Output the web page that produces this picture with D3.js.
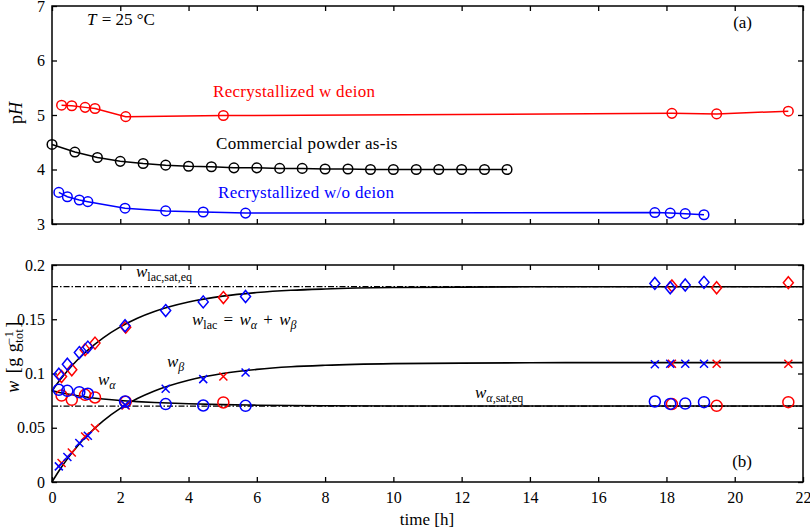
<!DOCTYPE html>
<html>
<head>
<meta charset="utf-8">
<script src="https://cdn.jsdelivr.net/npm/d3@7"></script>
<style>
  body { margin: 0; background: #fff; }
  svg text { font-family: "Liberation Serif", "Times New Roman", serif; fill: #000; }
</style>
</head>
<body>
<div id="chart"></div>
<script>
// ---- panel (a): pH over time ----
const phTimeRed = [0.28, 0.58, 0.97, 1.26, 2.16, 5.02, 18.16, 19.47, 21.57];
const phRed = [5.18, 5.17, 5.14, 5.12, 4.97, 4.99, 5.03, 5.02, 5.07];

const phTimeBlack = [0, 0.67, 1.33, 2.0, 2.67, 3.33, 4.0, 4.67, 5.33, 6.0, 6.67,
  7.33, 8.0, 8.67, 9.33, 10.0, 10.67, 11.33, 12.0, 12.67, 13.33];
const phBlack = [4.46, 4.32, 4.22, 4.15, 4.11, 4.08, 4.06, 4.05, 4.03, 4.03, 4.02,
  4.02, 4.01, 4.01, 4.0, 4.0, 4.0, 4.0, 4.0, 4.0, 4.0];

const phTimeBlue = [0.2, 0.45, 0.8, 1.05, 2.14, 3.33, 4.43, 5.67, 17.66, 18.11, 18.55, 19.1];
const phBlue = [3.58, 3.50, 3.44, 3.41, 3.29, 3.24, 3.22, 3.20, 3.21, 3.20, 3.19, 3.17];

// ---- panel (b): mass fractions ----
const tBlue = [0.2, 0.45, 0.8, 1.05, 2.14, 3.33, 4.43, 5.67, 17.66, 18.11, 18.55, 19.1];
const wLacBlue = [0.0994, 0.1086, 0.1193, 0.1243, 0.144, 0.158, 0.166, 0.171, 0.183, 0.179, 0.1816, 0.184];
const wAlphaBlue = [0.085, 0.084, 0.0828, 0.0813, 0.0742, 0.0718, 0.0705, 0.0702, 0.0742, 0.072, 0.0723, 0.0736];
const wBetaBlue = [0.0144, 0.023, 0.0359, 0.0426, 0.0711, 0.0859, 0.0948, 0.1009, 0.1086, 0.109, 0.109, 0.109];

const tRed = [0.28, 0.58, 0.97, 1.26, 2.16, 5.02, 18.16, 19.47, 21.57];
const wLacRed = [0.0972, 0.1034, 0.122, 0.128, 0.1427, 0.170, 0.1807, 0.179, 0.1837];
const wAlphaRed = [0.0797, 0.0757, 0.0803, 0.0779, 0.074, 0.0733, 0.0718, 0.0702, 0.0736];
const wBetaRed = [0.0175, 0.0272, 0.042, 0.0497, 0.0705, 0.0972, 0.1089, 0.109, 0.109];

// model curves
const curveT = [0, 0.25, 0.5, 0.75, 1, 1.5, 2, 2.5, 3, 4, 5, 6, 7, 8, 10, 12, 14, 16, 18, 20, 22];
const curveBeta = [0, 0.0124, 0.0234, 0.0332, 0.0419, 0.0564, 0.0679, 0.0769, 0.0839, 0.0938,
  0.1000, 0.1038, 0.1062, 0.1076, 0.1091, 0.1096, 0.1099, 0.11, 0.11, 0.11, 0.11];
const curveAlpha = [0.084, 0.0823, 0.0808, 0.0795, 0.0783, 0.0765, 0.0751, 0.0741, 0.0733, 0.0721,
  0.0713, 0.0708, 0.0705, 0.0703, 0.0701, 0.0700, 0.07, 0.07, 0.07, 0.07, 0.07];
const curveLac = [0.084, 0.0947, 0.1042, 0.1127, 0.1202, 0.1329, 0.1430, 0.1510, 0.1572, 0.1659,
  0.1713, 0.1746, 0.1767, 0.1779, 0.1792, 0.1796, 0.1799, 0.18, 0.18, 0.18, 0.18];
const wLacSat = 0.18;
const wAlphaSat = 0.07;

// ticks
const timeTicks = [0, 2, 4, 6, 8, 10, 12, 14, 16, 18, 20, 22];
const phTicks = [3, 4, 5, 6, 7];
const wTicks = [0, 0.05, 0.1, 0.15, 0.2];
const wTickLabels = ["0", "0.05", "0.1", "0.15", "0.2"];

const RED = "#ff0000", BLUE = "#0000ff";

const svg = d3.select("#chart").append("svg")
  .attr("width", 810).attr("height", 530);

const x = d3.scaleLinear().domain([0, 22]).range([52, 803]);
const yPh = d3.scaleLinear().domain([3, 7]).range([224, 6]);
const yW = d3.scaleLinear().domain([0, 0.2]).range([482, 265]);

// frame with inward ticks on all four sides
function frame(y, yTicks, yFmt, showX) {
  const g = svg.append("g");
  const [yb, yt] = y.range();
  g.append("g").attr("transform", `translate(0,${yb})`)
    .call(d3.axisBottom(x).tickValues(timeTicks).tickSize(-5).tickPadding(10)
      .tickFormat(showX ? d3.format("d") : ""));
  g.append("g").attr("transform", `translate(0,${yt})`)
    .call(d3.axisTop(x).tickValues(timeTicks).tickSize(-5).tickFormat(""));
  g.append("g").attr("transform", `translate(${x.range()[0]},0)`)
    .call(d3.axisLeft(y).tickValues(yTicks).tickSize(-5).tickPadding(7).tickFormat(yFmt));
  g.append("g").attr("transform", `translate(${x.range()[1]},0)`)
    .call(d3.axisRight(y).tickValues(yTicks).tickSize(-5).tickFormat(""));
  g.selectAll(".domain").remove();
  g.selectAll(".tick line").attr("stroke", "#000").attr("stroke-width", 1.3);
  g.selectAll(".tick text").style("font-size", "16px");
  g.append("rect")
    .attr("x", x.range()[0]).attr("y", yt)
    .attr("width", x.range()[1] - x.range()[0]).attr("height", yb - yt)
    .attr("fill", "none").attr("stroke", "#000").attr("stroke-width", 1.5);
}

// text with italic / sub / sup pieces
function mathText(px, py, parts, opts = {}) {
  const t = svg.append("text").attr("x", px).attr("y", py)
    .style("font-size", (opts.size || 17) + "px");
  if (opts.rotate) t.attr("transform", `rotate(-90,${px},${py})`).attr("text-anchor", "middle");
  if (opts.anchor) t.attr("text-anchor", opts.anchor);
  if (opts.color) t.style("fill", opts.color);
  if (opts.spacing) t.style("letter-spacing", opts.spacing + "px");
  let shift = 0;
  parts.forEach(p => {
    const target = p.sub ? 4 : p.sup ? -6 : 0;
    const s = t.append("tspan").text(p.t).attr("dy", target - shift);
    if (p.dx) s.attr("dx", p.dx);
    if (p.i) s.style("font-style", "italic");
    if (p.sub || p.sup) s.style("font-size", "12px");
    shift = target;
  });
  return t;
}

// ---------- panel (a) ----------
frame(yPh, phTicks, d3.format("d"), false);

function phSeries(ts, vs, color) {
  const pts = ts.map((t, i) => [t, vs[i]]);
  svg.append("path").datum(pts)
    .attr("d", d3.line().x(d => x(d[0])).y(d => yPh(d[1])))
    .attr("fill", "none").attr("stroke", color).attr("stroke-width", 1.5);
  svg.append("g").selectAll("circle").data(pts).enter().append("circle")
    .attr("cx", d => x(d[0])).attr("cy", d => yPh(d[1])).attr("r", 4.8)
    .attr("fill", "none").attr("stroke", color).attr("stroke-width", 1.5);
}
phSeries(phTimeRed, phRed, RED);
phSeries(phTimeBlack, phBlack, "#000");
phSeries(phTimeBlue, phBlue, BLUE);

mathText(213, 97, [{t: "Recrystallized w deion"}], {color: RED, spacing: 0.3});
mathText(216, 149, [{t: "Commercial powder as-is"}], {spacing: 0.3});
mathText(218, 198, [{t: "Recrystallized w/o deion"}], {color: BLUE, spacing: 0.3});
mathText(87, 25, [{t: "T", i: 1}, {t: " = 25 °C", dx: 1}]);
mathText(752, 28, [{t: "(a)"}], {anchor: "end"});
mathText(22, 113, [{t: "p"}, {t: "H", i: 1}], {rotate: 1, size: 18});

// ---------- panel (b) ----------
frame(yW, wTicks, (d, i) => wTickLabels[i], true);

// saturation lines (dash-dot) under the model curves
[wLacSat, wAlphaSat].forEach(v => {
  svg.append("line")
    .attr("x1", x(0)).attr("x2", x(22)).attr("y1", yW(v)).attr("y2", yW(v))
    .attr("stroke", "#000").attr("stroke-width", 1.3).attr("stroke-dasharray", "6,2,1.5,2");
});

const curveLine = d3.line().x(d => x(d[0])).y(d => yW(d[1])).curve(d3.curveMonotoneX);
[curveLac, curveAlpha, curveBeta].forEach(vs => {
  svg.append("path").datum(curveT.map((t, i) => [t, vs[i]]))
    .attr("d", curveLine)
    .attr("fill", "none").attr("stroke", "#000").attr("stroke-width", 1.6);
});

const diamond = "M0,-6L5,0L0,6L-5,0Z";
const cross = "M-4,-4L4,4M-4,4L4,-4";

function markers(ts, vs, color, kind) {
  const pts = ts.map((t, i) => [t, vs[i]]);
  const g = svg.append("g");
  if (kind === "circle") {
    g.selectAll("circle").data(pts).enter().append("circle")
      .attr("cx", d => x(d[0])).attr("cy", d => yW(d[1])).attr("r", 5.5)
      .attr("fill", "none").attr("stroke", color).attr("stroke-width", 1.5);
  } else {
    g.selectAll("path").data(pts).enter().append("path")
      .attr("transform", d => `translate(${x(d[0])},${yW(d[1])})`)
      .attr("d", kind === "diamond" ? diamond : cross)
      .attr("fill", "none").attr("stroke", color).attr("stroke-width", 1.5);
  }
}
markers(tRed, wLacRed, RED, "diamond");
markers(tRed, wAlphaRed, RED, "circle");
markers(tRed, wBetaRed, RED, "cross");
markers(tBlue, wLacBlue, BLUE, "diamond");
markers(tBlue, wAlphaBlue, BLUE, "circle");
markers(tBlue, wBetaBlue, BLUE, "cross");

mathText(136, 277, [{t: "w", i: 1}, {t: "lac,sat,eq", sub: 1}]);
mathText(192, 325, [{t: "w", i: 1}, {t: "lac", sub: 1}, {t: " = ", dx: 2}, {t: "w", i: 1, dx: 2},
  {t: "α", i: 1, sub: 1}, {t: " + ", dx: 2}, {t: "w", i: 1, dx: 2}, {t: "β", i: 1, sub: 1}]);
mathText(167, 367, [{t: "w", i: 1}, {t: "β", i: 1, sub: 1}]);
mathText(98, 385, [{t: "w", i: 1}, {t: "α", i: 1, sub: 1}]);
mathText(475, 398, [{t: "w", i: 1}, {t: "α", i: 1, sub: 1}, {t: ",sat,eq", sub: 1}]);
mathText(752, 467, [{t: "(b)"}], {anchor: "end"});

mathText(19, 357, [{t: "w", i: 1}, {t: " [g g", dx: 2}, {t: "tot", sub: 1}, {t: "−1", sup: 1, dx: -16},
  {t: "]", dx: 3}], {rotate: 1, size: 18, spacing: 0.5});
mathText(427, 525, [{t: "time [h]"}], {anchor: "middle", size: 17});
</script>
</body>
</html>
